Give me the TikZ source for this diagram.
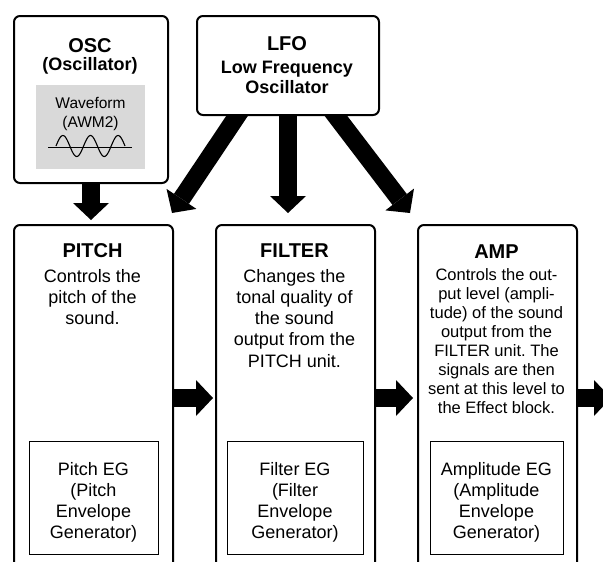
\documentclass[tikz,border=0pt]{standalone}
\usepackage{fontspec}
\setmainfont{Liberation Sans}
\usetikzlibrary{arrows.meta,backgrounds}
\frenchspacing

\tikzset{
  unit/.style={draw,line width=2pt,rounded corners=6pt,fill=white,anchor=north west,inner sep=0pt},
  egbox/.style={draw,line width=1pt,fill=white,anchor=north west,inner sep=0pt},
  title/.style={font=\bfseries\fontsize{20}{24}\selectfont,anchor=base,inner sep=0pt},
  subtitle/.style={font=\bfseries\fontsize{18}{20.5}\selectfont,align=center,anchor=base,inner sep=0pt},
  body/.style={font=\fontsize{18}{21.3}\selectfont,align=center,anchor=base,inner sep=0pt},
  flow/.style={line width=18pt,shorten <=-8pt,-{Triangle[length=17pt,width=36pt,line width=0pt]}},
}

\begin{document}
\begin{tikzpicture}[x=1pt,y=-1pt]
\clip (0,0) rectangle (603,562);

% source blocks
\node[unit,minimum width=154pt,minimum height=167pt] (osc) at (13,15) {};
\node[anchor=north west,inner sep=0pt,fill=black!15,minimum width=109pt,minimum height=84pt] (wave) at (36,85) {};
\node[unit,minimum width=182pt,minimum height=99pt] (lfo) at (196,15) {};

% units
\node[unit,minimum width=159pt,minimum height=360pt] (pitch) at (13,224) {};
\node[unit,minimum width=159pt,minimum height=360pt] (filter) at (215,224) {};
\node[unit,minimum width=159pt,minimum height=360pt] (amp) at (417,224) {};

\node[egbox,minimum width=129pt,minimum height=113pt] (pitcheg) at (29,441) {};
\node[egbox,minimum width=136pt,minimum height=113pt] (filtereg) at (227,441) {};
\node[egbox,minimum width=133pt,minimum height=113pt] (ampeg) at (430,441) {};

% texts (multi-line nodes sit on their last baseline)
\node[title] (osct) at (90,52) {OSC};
\node[subtitle] (oscs) at (90,70) {(Oscillator)};
\node[body,font=\fontsize{15.5}{19}\selectfont] (wavet) at (90.5,127) {Waveform\\(AWM2)};
\draw[line width=0.8pt] (48,147) -- (132,147);
\draw[line width=1.1pt,domain=0:900,samples=90,smooth] plot ({56+\x/360*27.6},{146-10.5*sin(\x)});

\node[title] (lfot) at (287,50) {LFO};
\node[subtitle] (lfos) at (287,93.5) {Low Frequency\\Oscillator};

\node[title] (pitcht) at (92.5,257) {PITCH};
\node[body] (pitchb) at (92.5,324.6) {Controls the\\pitch of the\\sound.};
\node[title] (filtert) at (294.5,257) {FILTER};
\node[body] (filterb) at (294.5,367.2) {Changes the\\tonal quality of\\the sound\\output from the\\PITCH unit.};
\node[title] (ampt) at (496.5,258) {AMP};
\node[body,font=\fontsize{16.5}{19}\selectfont] (ampb) at (496.5,413) {Controls the out-\\put level (ampli-\\tude) of the sound\\output from the\\FILTER unit. The\\signals are then\\sent at this level to\\the Effect block.};

\node[body,font=\fontsize{18}{21}\selectfont] (pitchegt) at (93.5,538) {Pitch EG\\(Pitch\\Envelope\\Generator)};
\node[body,font=\fontsize{18}{21}\selectfont] (filteregt) at (295,538) {Filter EG\\(Filter\\Envelope\\Generator)};
\node[body,font=\fontsize{18}{21}\selectfont] (ampegt) at (496.5,538) {Amplitude EG\\(Amplitude\\Envelope\\Generator)};

\coordinate (exit) at (611,398);

% block arrows
\begin{pgfonlayer}{background}
\draw[flow] (osc.south) -- ([yshift=4pt]osc.south |- pitch.north);
\draw[flow] (lfo.south) -- ([yshift=11pt]lfo.south |- filter.north);
\draw[flow] ([xshift=41pt]lfo.south west) -- ([shift={(-2pt,11pt)}]pitch.north east);
\draw[flow] ([xshift=-44pt]lfo.south east) -- ([shift={(-7pt,11pt)}]amp.north west);
\draw[flow] ([yshift=-174pt]pitch.north east) -- ([shift={(-2pt,-174pt)}]filter.north west);
\draw[flow] ([yshift=-174pt]filter.north east) -- ([shift={(-4pt,-174pt)}]amp.north west);
\draw[flow] ([yshift=-174pt]amp.north east) -- (exit);
\end{pgfonlayer}
\end{tikzpicture}
\end{document}
